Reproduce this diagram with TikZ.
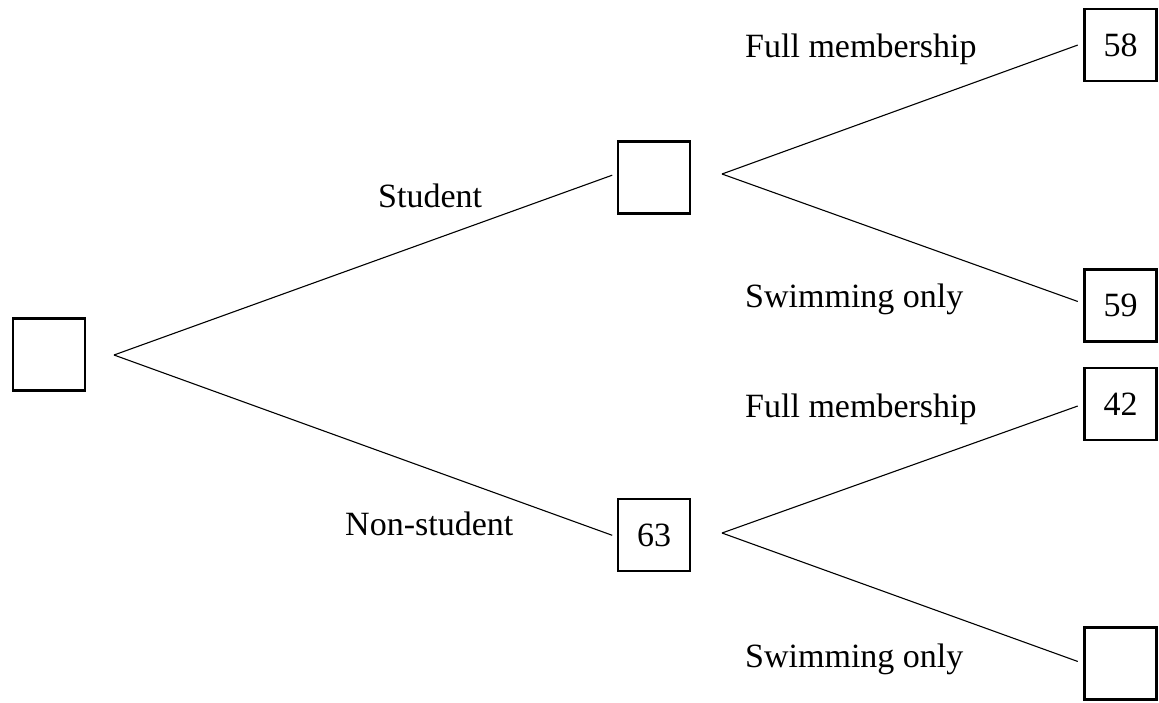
\documentclass[tikz,border=0pt]{standalone}
\usepackage{fontspec}
\setmainfont{Liberation Serif}
\begin{document}
\begin{tikzpicture}[x=1pt,y=-1pt,
  box/.style={draw, line width=2.2pt, minimum width=72pt, minimum height=72pt, inner sep=0pt, font=\fontsize{34}{40}\selectfont},
  lbl/.style={anchor=base west, inner sep=0pt, font=\fontsize{34}{40}\selectfont},
  branch/.style={line width=1.1pt, shorten >=5pt}]
\useasboundingbox (0,0) rectangle (1159,702);
% boxes
\node[box] (root) at (49,354.5) {};
\node[box] (stu) at (654,177.5) {};
\node[box] (non) at (654,535) {63};
\node[box] (b58) at (1120.5,45) {58};
\node[box] (b59) at (1120.5,305.5) {59};
\node[box] (b42) at (1120.5,404) {42};
\node[box] (bempty) at (1120.5,663.5) {};
% apex points
\coordinate (r) at (114,355);
\coordinate (s) at (722,174);
\coordinate (n) at (722,533);
% branches
\draw[branch] (r) -- ([yshift=4pt]stu.west);
\draw[branch] (r) -- ([yshift=-2pt]non.west);
\draw[branch, shorten >=6pt] (s) -- ([yshift=2pt]b58.west);
\draw[branch, shorten >=6pt] (s) -- ([yshift=2pt]b59.west);
\draw[branch, shorten >=6pt] (n) -- (b42.west);
\draw[branch, shorten >=6pt] (n) -- (bempty.west);
% labels
\node[lbl] (lstu) at (378,207) {Student};
\node[lbl] (lnon) at (345,535) {Non-student};
\node[lbl] (lf1) at (745,57) {Full membership};
\node[lbl] (ls1) at (745,307) {Swimming only};
\node[lbl] (lf2) at (745,417) {Full membership};
\node[lbl] (ls2) at (745,667) {Swimming only};
\end{tikzpicture}
\end{document}
